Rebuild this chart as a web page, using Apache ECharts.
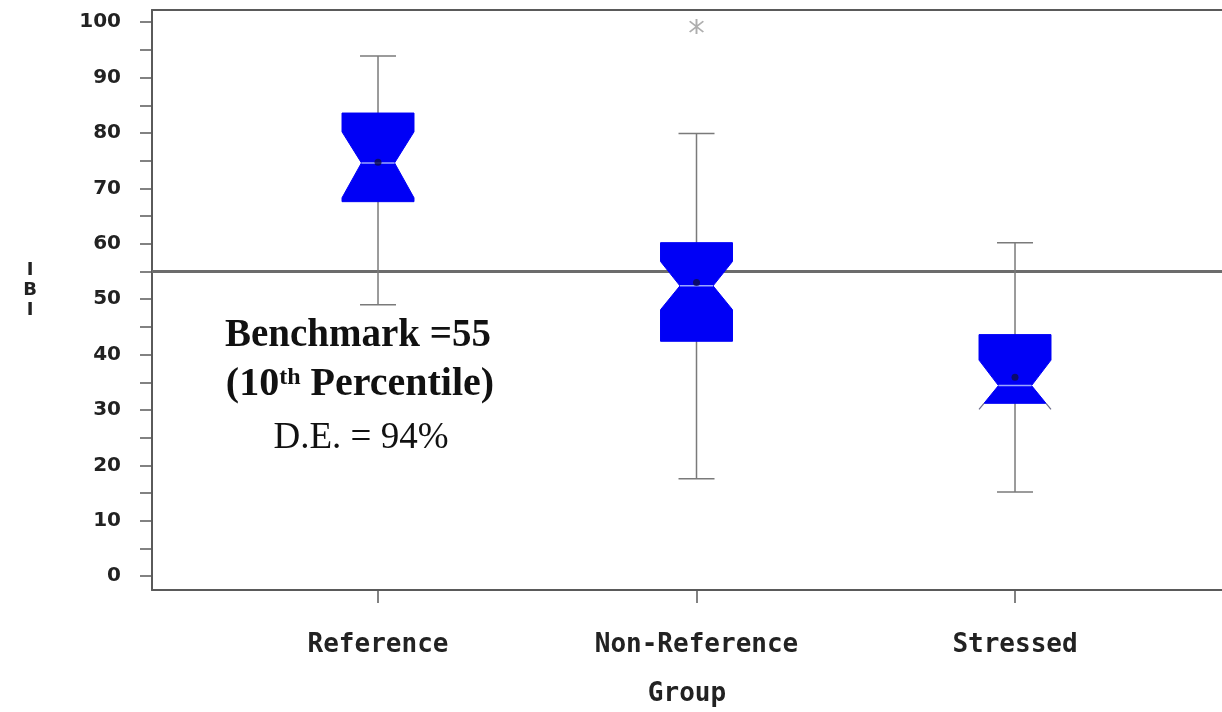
<!DOCTYPE html>
<html>
<head>
<meta charset="utf-8">
<title>IBI by Group</title>
<script src="https://cdn.jsdelivr.net/npm/echarts@6/dist/echarts.min.js"></script>
<style>
  html, body { margin: 0; padding: 0; background: #fff; }
  #chart { width: 1222px; height: 712px; }
</style>
</head>
<body>
<div id="chart"></div>
<script>
// Groups along the x axis
const groups = ['Reference', 'Non-Reference', 'Stressed'];

// Notched box plot statistics for IBI per group
const whiskerLow  = [49.0, 17.6, 15.2];
const q1          = [67.6, 42.4, 31.2];
const notchLow    = [68.3, 48.1, 30.1];
const median      = [74.6, 52.4, 34.4];
const notchHigh   = [80.2, 56.8, 39.0];
const q3          = [83.6, 60.2, 43.6];
const whiskerHigh = [93.9, 79.9, 60.2];
const means       = [74.7, 53.0, 35.9];

// Outliers: group number (1-based) and IBI value
const outlierGroup = [2];
const outlierValue = [99.2];

// Benchmark line (10th percentile of reference sites)
const benchmark = 55;

// Axis tick values
const yTickValues  = [0, 5, 10, 15, 20, 25, 30, 35, 40, 45, 50, 55, 60, 65, 70, 75, 80, 85, 90, 95, 100];
const yLabelValues = [0, 10, 20, 30, 40, 50, 60, 70, 80, 90, 100];
const xTickValues  = [1, 2, 3];

const BOX_WIDTH = 0.226;     // box width in x-axis units
const NOTCH_INDENT = 0.27;   // notch depth on each side, as a share of box width
const X_MIN = 0.2904, X_MAX = 3.6499;

const boxData = groups.map((g, i) => [
  i + 1, whiskerLow[i], q1[i], notchLow[i], median[i], notchHigh[i], q3[i], whiskerHigh[i]
]);
const meanData = groups.map((g, i) => [i + 1, means[i]]);
const outlierData = outlierGroup.map((g, i) => [g, outlierValue[i]]);

function renderBox(params, api) {
  const xv = api.value(0);
  const y = v => api.coord([xv, v])[1];
  const cx = api.coord([xv, api.value(4)])[0];
  const w = api.size([BOX_WIDTH, 0])[0];
  const L = cx - w / 2, R = cx + w / 2, ind = w * NOTCH_INDENT;
  const yLo = y(api.value(1)), yQ1 = y(api.value(2)), yNl = y(api.value(3));
  const yMed = y(api.value(4)), yNh = y(api.value(5)), yQ3 = y(api.value(6)), yHi = y(api.value(7));

  const children = [];
  const whiskerStyle = { stroke: '#7a7a7a', lineWidth: 1.5 };
  // whisker line and caps
  children.push({ type: 'line', shape: { x1: cx, y1: yLo, x2: cx, y2: yHi }, style: whiskerStyle });
  children.push({ type: 'line', shape: { x1: cx - w / 4, y1: yHi, x2: cx + w / 4, y2: yHi }, style: whiskerStyle });
  children.push({ type: 'line', shape: { x1: cx - w / 4, y1: yLo, x2: cx + w / 4, y2: yLo }, style: whiskerStyle });

  // notched box
  const pts = [[L, yQ3], [R, yQ3], [R, yNh], [R - ind, yMed]];
  const lowerFlare = [];
  if (yNl > yQ1) {
    // lower notch reaches below the first quartile
    const t = (yQ1 - yMed) / (yNl - yMed);
    const xr = R - ind + ind * t, xl = L + ind - ind * t;
    pts.push([xr, yQ1], [xl, yQ1]);
    lowerFlare.push([xr, yQ1, R, yNl], [xl, yQ1, L, yNl]);
  } else {
    pts.push([R, yNl], [R, yQ1], [L, yQ1], [L, yNl]);
  }
  pts.push([L + ind, yMed], [L, yNh]);
  children.push({ type: 'polygon', shape: { points: pts }, style: { fill: '#0000f6', stroke: '#0000f6', lineWidth: 1 } });
  lowerFlare.forEach(s => children.push({
    type: 'line', shape: { x1: s[0], y1: s[1], x2: s[2], y2: s[3] }, style: { stroke: '#6a6a8a', lineWidth: 1.2 }
  }));
  // median line across the waist
  children.push({ type: 'line', shape: { x1: L + ind, y1: yMed, x2: R - ind, y2: yMed }, style: { stroke: '#9aa6ff', lineWidth: 1.5 } });
  return { type: 'group', children };
}

const asterisk = 'path://M-1,-10L1,-10L1,10L-1,10Z' +
  'M-6.36,-7.78L7.78,6.36L6.36,7.78L-7.78,-6.36Z' +
  'M6.36,-7.78L7.78,-6.36L-6.36,7.78L-7.78,6.36Z';

const frameLine = { show: true, onZero: false, lineStyle: { color: '#5a5a5a', width: 2 } };

const chart = echarts.init(document.getElementById('chart'), null, { renderer: 'canvas' });
chart.setOption({
  backgroundColor: '#ffffff',
  animation: false,
  grid: { left: 152, top: 10, right: 0, bottom: 120 },
  xAxis: [
    {
      type: 'value',
      min: X_MIN, max: X_MAX,
      splitLine: { show: false },
      axisLine: frameLine,
      axisTick: { show: true, customValues: xTickValues, length: 13, lineStyle: { color: '#5a5a5a', width: 1.5 } },
      axisLabel: {
        customValues: xTickValues,
        formatter: v => groups[Math.round(v) - 1] || '',
        margin: 42,
        fontFamily: 'DejaVu Sans Mono', fontSize: 26, fontWeight: 'bold', color: '#222'
      },
      name: 'Group', nameLocation: 'middle', nameGap: 91,
      nameTextStyle: { fontFamily: 'DejaVu Sans Mono', fontSize: 26, fontWeight: 'bold', color: '#222' }
    },
    {
      // top edge of the plot frame
      type: 'value', position: 'top',
      min: X_MIN, max: X_MAX,
      splitLine: { show: false },
      axisLine: frameLine,
      axisTick: { show: false },
      axisLabel: { show: false }
    }
  ],
  yAxis: {
    type: 'value',
    min: -2.5, max: 102.2,
    splitLine: { show: false },
    axisLine: frameLine,
    axisTick: { show: true, customValues: yTickValues, length: 12, lineStyle: { color: '#5a5a5a', width: 1.5 } },
    axisLabel: {
      customValues: yLabelValues,
      margin: 31,
      fontFamily: 'DejaVu Sans', fontSize: 20, fontWeight: 'bold', color: '#222'
    },
    name: 'I\nB\nI\n', nameLocation: 'middle', nameRotate: 0, nameGap: 122,
    nameTextStyle: {
      fontFamily: 'DejaVu Sans', fontSize: 18, fontWeight: 'bold', color: '#222',
      lineHeight: 20, align: 'center'
    }
  },
  series: [
    {
      name: 'IBI',
      type: 'custom',
      renderItem: renderBox,
      encode: { x: 0, y: [1, 2, 3, 4, 5, 6, 7] },
      data: boxData,
      z: 3
    },
    {
      name: 'Mean',
      type: 'scatter',
      data: meanData,
      symbol: 'circle', symbolSize: 7,
      itemStyle: { color: '#0c0c48' },
      z: 5,
      markLine: {
        silent: true, symbol: 'none', z: 2,
        label: { show: false },
        lineStyle: { color: '#6c6c6c', width: 3, type: 'solid' },
        data: [{ yAxis: benchmark }]
      }
    },
    {
      name: 'Outlier',
      type: 'scatter',
      data: outlierData,
      symbol: asterisk, symbolSize: 15,
      itemStyle: { color: '#9a9a9a' },
      z: 4
    }
  ],
  graphic: [
    {
      type: 'text', z: 10,
      style: {
        x: 358, y: 336, text: 'Benchmark =55', align: 'center', verticalAlign: 'middle',
        font: 'bold 39px "Liberation Serif"', fill: '#111'
      }
    },
    {
      type: 'text', z: 10,
      style: {
        x: 360, y: 385, text: '(10{sup|th} Percentile)', align: 'center', verticalAlign: 'middle',
        font: 'bold 40px "Liberation Serif"', fill: '#111',
        rich: { sup: { font: 'bold 24px "Liberation Serif"', fill: '#111', padding: [0, 0, 15, 0] } }
      }
    },
    {
      type: 'text', z: 10,
      style: {
        x: 361, y: 438, text: 'D.E. = 94%', align: 'center', verticalAlign: 'middle',
        font: '37px "Liberation Serif"', fill: '#111'
      }
    }
  ]
});
</script>
</body>
</html>
